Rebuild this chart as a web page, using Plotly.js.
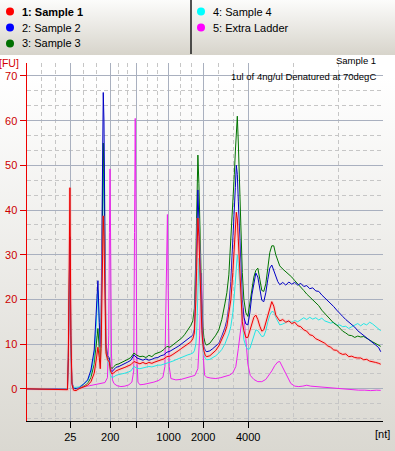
<!DOCTYPE html>
<html>
<head>
<meta charset="utf-8">
<script src="https://cdn.plot.ly/plotly-3.0.1.min.js"></script>
<style>
html,body{margin:0;padding:0;}
#wrap{position:relative;width:395px;height:451px;
background:linear-gradient(to bottom,#fcfcfb 0px,#d7d4cb 55px,#ffffff 55px,#ffffff 75px,#e9e8e4 300px,#dad8d1 451px);}
#chart{position:absolute;left:0;top:0;width:395px;height:451px;}
</style>
</head>
<body>
<div id="wrap"><div id="chart"></div></div>
<script>
// ---- data (migration time in seconds, fluorescence in FU) ----
const tSample = [19.00,20.96,23.07,24.68,24.80,24.92,25.03,25.17,25.31,25.53,
25.88,26.30,26.86,27.52,27.98,28.44,28.68,28.82,28.96,29.15,
29.29,29.41,29.52,29.62,29.71,29.81,29.90,30.00,30.09,30.32,
30.55,30.72,30.93,31.21,31.49,31.91,32.33,32.75,33.17,33.59,
34.02,34.44,34.86,35.28,35.70,36.12,36.54,36.96,37.38,37.80,
38.23,38.65,39.07,39.49,39.91,40.33,40.75,41.17,41.59,42.01,
42.29,42.51,42.72,42.86,43.00,43.14,43.28,43.42,43.56,43.70,
43.84,44.05,44.26,44.68,45.10,45.52,45.94,46.36,46.79,47.07,
47.35,47.63,47.91,48.12,48.26,48.40,48.54,48.68,48.82,49.03,
49.24,49.46,49.74,50.02,50.30,50.58,50.86,51.14,51.42,51.70,
51.98,52.26,52.54,52.82,53.10,53.38,53.66,53.94,54.22,54.50,
54.92,55.35,55.77,56.19,56.61,57.03,57.45,57.87,58.29,58.71,
59.13,59.56,59.98,60.40,60.82,61.24,61.66,62.08,62.50,62.92,
63.34,63.77,64.19,64.61,65.03,65.45,65.87,66.29,66.71,67.13,
67.55,67.97,68.40,68.68];

const sample1 = [0,-0.1,-0.1,-0.2,7,30,45,12,1,-0.3,
-0.4,0,0.4,0.8,1.6,3.5,6,7.5,9.3,7,
4.5,9,20,30,38.7,34,26,14,8,6.5,
6,4,3.3,3.6,4.0,4.3,4.5,4.8,5.1,5.4,
6.1,5.8,5.6,5.9,5.6,5.9,5.7,6.0,6.2,6.5,
6.7,7.2,7.3,7.7,8.1,8.6,9.1,9.6,10.1,10.5,
11.2,12.5,20,30,38.2,34,26,18,13,10,
8.5,7.4,7.2,7.4,7.9,8.6,9.6,11.0,12.6,14.0,
16.5,19.9,26,32,36,39.5,38,33,27,20,
15,13,11.5,11.5,13,15,16,16.5,15.5,14,
12.9,13.2,14.8,16.8,18.5,19.5,18.5,16.5,15.8,15.2,
15.5,14.9,15.2,14.6,14.9,14.1,13.9,13.2,12.9,12.1,
11.9,11.2,10.9,10.5,10.2,9.6,9.3,8.7,8.6,8.0,
7.7,7.8,7.2,7.3,7.0,6.9,6.9,6.5,6.6,6.2,
6.1,5.9,5.7,5.5];

const sample2 = [0,-0.1,0,-0.1,7,22,34,10,1.5,0.1,
0,0.2,0.9,2.0,4.2,8.7,14.8,19,24.2,14.8,
9.5,16,35,52,66.3,60,49,25,10.3,7.3,
7,4.5,3.8,4.2,4.8,5.0,5.3,5.6,6.0,6.4,
7.6,6.9,6.6,6.4,6.7,6.4,6.6,6.9,7.0,7.4,
7.6,8.2,8.4,8.9,9.2,9.6,10.1,10.6,11.2,11.6,
12.0,13.5,24,35,44.5,38,30,22,15,11,
9.5,8.5,8.3,8.5,9.0,9.5,10.2,11.8,13.6,15.4,
18.5,24,32,40,45,50,48,42,36,28,
20,16,14.5,14.3,17,21,24,25.9,25,22,
19.8,19.5,21.5,24.5,27,27.7,26.5,25,24,23.3,
23.8,23.2,23.9,23.4,23.8,23.2,23.6,22.9,23.1,22.4,
22.6,21.9,21.8,21.0,20.4,19.8,19.0,18.4,17.6,17.0,
16.2,15.5,15.0,14.5,13.8,13.0,12.5,12.0,11.5,10.8,
10.3,9.8,9.2,8.3];

const sample3 = [0,-0.1,-0.1,-0.1,6,22,34,9,1.5,0.1,
0,0.1,0.5,1.2,2.5,5.5,9,11,13.5,9,
6,12,25,42,55,48,38,18,9,7,
6.5,5,4.5,5.0,5.4,5.6,5.9,6.2,6.6,7.0,
8.0,7.5,7.2,7.3,7.0,7.5,7.2,7.8,8.0,8.3,
8.8,9.5,9.3,9.8,10.2,10.8,11.4,12.2,13.2,14.2,
15.2,18,30,42,52.3,46,36,26,19,14,
11.5,10.0,9.8,10.2,11.0,12.0,13.2,15.5,19.0,21.5,
25.5,33,40,48,53,57,61,55,47,35,
26,20,17,16.2,19,22.5,25,26.5,27,24.5,
22,21.8,23.5,27,30.5,32,32,30,28.5,27.5,
26.8,26.2,25.5,25.0,24.2,23.5,22.9,22.0,21.2,20.5,
19.8,19.2,18.6,17.6,16.9,16.0,15.5,14.7,14.3,13.5,
12.9,12.5,12.0,11.9,11.5,11.8,11.6,11.7,11.2,10.9,
10.5,10.1,9.8,9.5];

const sample4 = [0,-0.1,0,0,8,20,30,8,1.5,0.3,
0.3,0.4,1.0,1.8,3.5,7.5,13,17,22,15,
9,15,30,40,49,45,36,18,9,6,
5,3,2.5,2.7,3.0,3.2,3.3,3.5,3.7,4.0,
5.0,4.6,4.5,4.7,4.8,5.0,4.9,5.1,5.3,5.3,
5.5,5.7,5.9,6.2,6.5,6.8,7.1,7.4,7.6,7.8,
8.0,8.5,10,14,22,29.2,24,17,12,9,
7.5,6.8,6.5,6.6,7.0,7.4,8.0,8.8,10.0,11.0,
12.3,14.0,17,21,24,27.5,30,28,25,19,
14,11,9.5,8.8,9,10.5,12,13.2,13,12.2,
11.7,11.8,13,15,16.5,17.3,17.2,16,15,14.3,
14.5,14.8,15.2,14.9,15.3,15.0,15.4,15.9,15.5,16.0,
15.6,15.9,15.4,15.8,15.2,15.0,14.7,14.9,14.2,14.3,
13.9,14.0,13.5,13.9,14.2,14.6,14.1,14.6,14.3,14.9,
14.5,14.0,13.3,13.0];

const tLadder = [19.00,23.07,24.68,24.80,24.92,25.03,25.17,25.31,25.53,26.02,
26.58,27.28,27.98,28.68,29.38,29.95,30.30,30.48,30.58,30.66,
30.76,30.86,31.00,31.21,31.63,32.19,32.75,33.31,33.73,33.99,
34.10,34.20,34.30,34.41,34.58,34.86,35.42,36.12,36.82,37.52,
38.09,38.37,38.59,38.72,38.83,38.97,39.21,39.91,40.61,41.31,
42.01,42.57,43.00,43.25,43.42,43.52,43.63,43.77,43.95,44.26,
44.82,45.52,46.22,46.93,47.49,47.91,48.33,48.68,49.03,49.38,
49.74,50.02,50.36,50.86,51.42,51.98,52.54,52.96,53.38,53.80,
54.22,54.50,54.78,55.14,55.56,56.05,56.61,57.17,57.73,58.29,
58.85,59.56,60.26,61.10,62.08,63.06,63.91,64.75,65.59,66.43,
67.27,68.11,68.68];

const ladder = [-0.1,-0.1,0,6,18,27,8,1,0.1,0.1,
0.3,0.5,0.7,0.9,1.1,1.4,2.5,12,35,49.2,
30,8,2,1.2,0.7,0.5,0.6,0.9,1.5,4,
35,60.5,40,8,1.5,0.9,1.0,1.2,1.5,1.9,
2.6,5,25,39,22,5,2.3,2.0,2.1,2.4,
2.6,3.0,4.5,12,22,25.9,18,7,3,2.6,
2.4,2.3,2.5,2.8,3.1,3.6,5,9,14,18,
11,5.5,3.0,2.1,1.6,1.6,2.1,3.0,4.0,5.2,
6.0,6.1,5.2,3.8,2.4,1.2,0.6,0.5,0.6,0.8,
0.6,0.5,0.4,0.2,0.2,0.0,-0.1,-0.2,-0.3,-0.3,
-0.4,-0.3,-0.35];

const seriesNames = ['1: Sample 1','2: Sample 2','3: Sample 3','4: Sample 4','5: Extra Ladder'];
const lineColors = ['#ee0000','#0000c4','#007400','#22e6e6','#ee22ee'];
const markerColors = ['#ff0000','#0000ff','#007000','#00ffff','#ff00ff'];

// ladder-derived x ticks (nt) at their migration times
const tickTimes = [25.08,30.69,34.34,38.88,43.74,50.06];
const tickLabels = ['25','200','','1000','2000','4000'];
const yTickVals = [0,10,20,30,40,50,60,70];

// ---- geometry ----
const FW=395, FH=451, ML=27, MR=12, MT=63, MB=30;
const PW=FW-ML-MR, PH=FH-MT-MB;
const px2x = p => (p-ML)/PW;
const py2y = p => (MT+PH-p)/PH;
const xRange=[19,69], yRange=[-7.2,72.9];

// minor grid: thirds between successive ticks
const xb=[xRange[0]].concat(tickTimes,[xRange[1]]);
const xMinor=[];
for(let i=0;i<xb.length-1;i++){const d=(xb[i+1]-xb[i])/3;xMinor.push(xb[i]+d,xb[i]+2*d);}
const yMinor=[];
for(let v=-10;v<80;v+=10){yMinor.push(v+10/3,v+20/3);}

const traces=[];
traces.push({x:tLadder,y:ladder,mode:'lines',line:{color:lineColors[4],width:1},hoverinfo:'skip',showlegend:false});
traces.push({x:tSample,y:sample4,mode:'lines',line:{color:lineColors[3],width:1},hoverinfo:'skip',showlegend:false});
traces.push({x:tSample,y:sample3,mode:'lines',line:{color:lineColors[2],width:1},hoverinfo:'skip',showlegend:false});
traces.push({x:tSample,y:sample2,mode:'lines',line:{color:lineColors[1],width:1},hoverinfo:'skip',showlegend:false});
traces.push({x:tSample,y:sample1,mode:'lines',line:{color:'rgba(255,170,170,0.45)',width:3},hoverinfo:'skip',showlegend:false});
traces.push({x:tSample,y:sample1,mode:'lines',line:{color:lineColors[0],width:1},hoverinfo:'skip',showlegend:false});

const FONT='Liberation Sans, Arial, sans-serif';
const annotations=[];
const shapes=[];
// legend (two columns)
const legPos=[[10,20,11.5],[10,20,27.5],[10,20,43.5],[201,211,11.5],[201,211,27.5]];
seriesNames.forEach((n,i)=>{
  const [mx,tx,ty]=legPos[i];
  annotations.push({xref:'paper',yref:'paper',x:px2x(tx),y:py2y(ty),xanchor:'left',yanchor:'middle',
    text:i===0?'<b>'+n+'</b>':n,showarrow:false,font:{family:FONT,size:11,color:'#000'}});
  shapes.push({type:'circle',xref:'paper',yref:'paper',xsizemode:'pixel',ysizemode:'pixel',
    xanchor:px2x(mx),yanchor:py2y(ty),x0:-4,x1:4,y0:-4,y1:4,fillcolor:markerColors[i],line:{width:0}});
});
shapes.push({type:'line',xref:'paper',yref:'paper',x0:px2x(191),x1:px2x(191),y0:py2y(0),y1:py2y(54),line:{color:'#1a1a1a',width:1.5}});
annotations.push({xref:'paper',yref:'paper',x:px2x(378),y:py2y(61),xanchor:'right',yanchor:'middle',text:'Sample 1',showarrow:false,font:{family:FONT,size:9.5,color:'#000'}});
annotations.push({xref:'paper',yref:'paper',x:px2x(378),y:py2y(76),xanchor:'right',yanchor:'middle',text:'1ul of 4ng/ul Denatured at 70degC',showarrow:false,font:{family:FONT,size:9.5,color:'#000'}});
annotations.push({xref:'paper',yref:'paper',x:px2x(9),y:py2y(63),xanchor:'center',yanchor:'middle',text:'[FU]',showarrow:false,font:{family:FONT,size:10.5,color:'#d40000'}});
annotations.push({xref:'paper',yref:'paper',x:px2x(382.5),y:py2y(434),xanchor:'center',yanchor:'middle',text:'[nt]',showarrow:false,font:{family:FONT,size:11,color:'#000'}});

const layout={
  width:FW,height:FH,
  margin:{l:ML,r:MR,t:MT,b:MB,pad:0},
  paper_bgcolor:'rgba(0,0,0,0)',plot_bgcolor:'rgba(0,0,0,0)',
  showlegend:false,hovermode:false,
  xaxis:{range:xRange,tickmode:'array',tickvals:tickTimes,ticktext:tickLabels,
    ticks:'outside',ticklen:6,tickcolor:'#000',tickwidth:1,
    showline:true,linecolor:'#000',linewidth:1,zeroline:false,
    showgrid:true,gridcolor:'#a9b0bf',gridwidth:1,
    tickfont:{family:FONT,size:11,color:'#000'},
    minor:{tickmode:'array',tickvals:xMinor,showgrid:true,gridcolor:'#c6c6c6',griddash:'4px,3px',gridwidth:1,ticks:''},
    fixedrange:true},
  yaxis:{range:yRange,tickmode:'array',tickvals:yTickVals,ticktext:yTickVals.map(String),
    ticks:'outside',ticklen:6,tickcolor:'#dd0000',tickwidth:1,
    showline:true,linecolor:'#ee0000',linewidth:1.5,zeroline:false,
    showgrid:true,gridcolor:'#a9b0bf',gridwidth:1,
    tickfont:{family:FONT,size:11,color:'#cc0000'},
    minor:{tickmode:'array',tickvals:yMinor,showgrid:true,gridcolor:'#c6c6c6',griddash:'4px,3px',gridwidth:1,ticks:''},
    fixedrange:true},
  annotations:annotations,
  shapes:shapes
};
Plotly.newPlot('chart',traces,layout,{staticPlot:true,displayModeBar:false});
</script>
</body>
</html>
